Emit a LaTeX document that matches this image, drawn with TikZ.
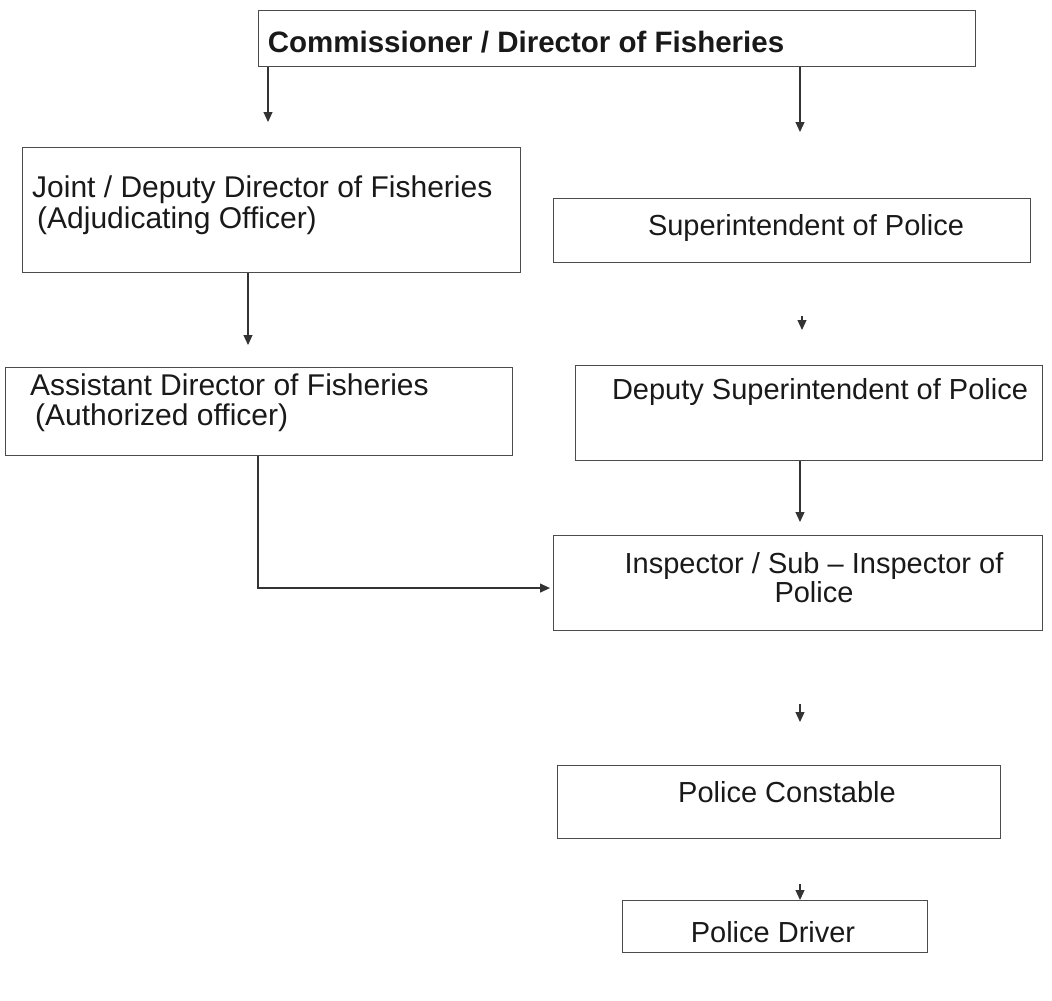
\documentclass[tikz,border=0pt]{standalone}
\usepackage{fontspec}
\setmainfont{Liberation Sans}
\usetikzlibrary{arrows.meta}
\begin{document}
\begin{tikzpicture}[x=1pt,y=-1pt,
  box/.style={draw=black!70, line width=1.1pt, inner sep=0pt, anchor=north west},
  txt/.style={font=\fontsize{29}{29}\selectfont, inner sep=0pt, text=black!90},
  arr/.style={draw=black!80, line width=1.2pt, -{Triangle[length=10pt,width=9pt]}}]
\useasboundingbox (0,0) rectangle (1052,1001);
% boxes
\node[box, minimum width=717pt, minimum height=56pt] (top) at (258,10) {};
\node[box, minimum width=498pt, minimum height=125pt] (joint) at (22,147) {};
\node[box, minimum width=477pt, minimum height=64pt] (sp) at (553,198) {};
\node[box, minimum width=507pt, minimum height=88pt] (asst) at (5,367) {};
\node[box, minimum width=467pt, minimum height=95pt] (dsp) at (575,365) {};
\node[box, minimum width=489pt, minimum height=95pt] (insp) at (553,535) {};
\node[box, minimum width=443pt, minimum height=73pt] (pc) at (557,765) {};
\node[box, minimum width=305pt, minimum height=52pt] (pd) at (622,900) {};
% texts
\node[txt, font=\fontsize{29.5}{30}\selectfont\bfseries] (top-t) at (526,42) {Commissioner / Director of Fisheries};
\node[txt, font=\fontsize{30}{31}\selectfont, anchor=west, align=left] (joint-t) at (32,205) {Joint / Deputy Director of Fisheries\\\,(Adjudicating Officer)};
\node[txt] (sp-t) at (806,228) {Superintendent of Police};
\node[txt, font=\fontsize{30}{30}\selectfont, anchor=west, align=left] (asst-t) at (30,403) {Assistant Director of Fisheries\\\,(Authorized officer)};
\node[txt] (dsp-t) at (820,392) {Deputy Superintendent of Police};
\node[txt, align=center] (insp-t) at (814,578) {Inspector / Sub -- Inspector of\\Police};
\node[txt] (pc-t) at (787,792) {Police Constable};
\node[txt] (pd-t) at (773,932) {Police Driver};
% connector x positions
\coordinate (c1) at (268,0);
\coordinate (c2) at (800,0);
\coordinate (c3) at (248,0);
\coordinate (c4) at (802,0);
\coordinate (c6) at (258,0);
% connectors
\draw[arr, shorten >=25pt] (top.south -| c1) -- (joint.north -| c1);
\draw[arr, shorten >=66pt] (top.south -| c2) -- (sp.north -| c2);
\draw[arr, shorten >=22pt] (joint.south -| c3) -- (asst.north -| c3);
\draw[arr, shorten <=53pt, shorten >=35pt] (sp.south -| c4) -- (dsp.north -| c4);
\draw[arr, shorten >=13pt] (dsp.south -| c2) -- (insp.north -| c2);
\draw[arr, shorten >=3pt] (asst.south -| c6) |- ([yshift=-5pt]insp.west);
\draw[arr, shorten <=73pt, shorten >=43pt] (insp.south -| c2) -- (pc.north -| c2);
\draw[arr, shorten <=45pt] (pc.south -| c2) -- (pd.north -| c2);
\end{tikzpicture}
\end{document}
